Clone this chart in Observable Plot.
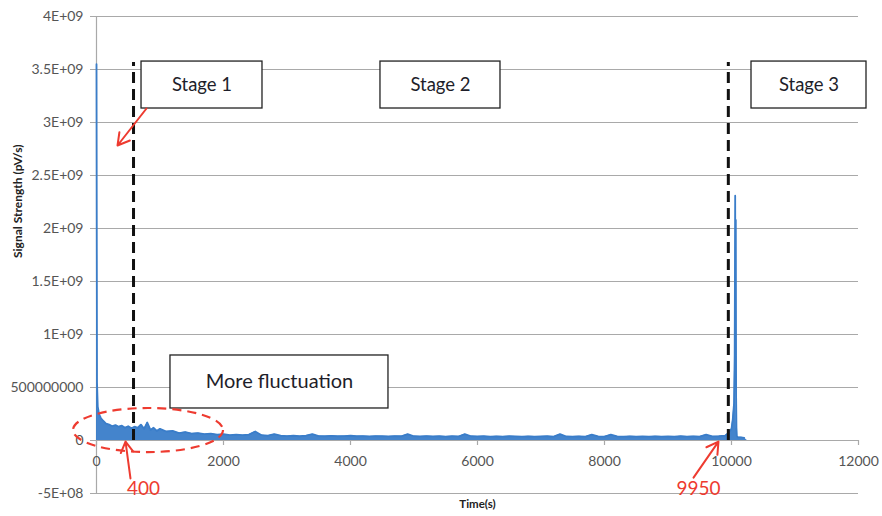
<!DOCTYPE html>
<html><head><meta charset="utf-8">
<script src="https://cdn.jsdelivr.net/npm/d3@7"></script>
<script src="https://cdn.jsdelivr.net/npm/@observablehq/plot@0.6"></script>
<style>
body{margin:0;background:#fff;}
#chart{width:882px;height:516px;}
</style>
</head><body><div id="chart"></div>
<script>
// ---- data ----
const time = [
  0, 8, 20, 40, 70, 100, 150, 200, 250, 300, 350, 400, 450, 500, 550, 600, 650, 700, 750, 800, 850, 900, 950, 1000,
  1100, 1200, 1300, 1400, 1500, 1600, 1700, 1800, 1900, 2000, 2100, 2200, 2300, 2400, 2500, 2600, 2700, 2800, 2900,
  3000, 3100, 3200, 3300, 3400, 3500, 3600, 3700, 3800, 3900, 4000, 4100, 4200, 4300, 4400, 4500, 4600, 4700, 4800,
  4900, 5000, 5100, 5200, 5300, 5400, 5500, 5600, 5700, 5800, 5900, 6000, 6100, 6200, 6300, 6400, 6500, 6600, 6700,
  6800, 6900, 7000, 7100, 7200, 7300, 7400, 7500, 7600, 7700, 7800, 7900, 8000, 8100, 8200, 8300, 8400, 8500, 8600,
  8700, 8800, 8900, 9000, 9100, 9200, 9300, 9400, 9500, 9600, 9700, 9800, 9900, 9950, 10000, 10020, 10040, 10050,
  10058, 10063, 10068, 10073, 10078, 10085, 10100, 10150, 10200, 10250
];
const signal = [
  3.55e9, 5.5e8, 3.2e8, 2.5e8, 2.1e8, 1.9e8, 1.6e8, 1.5e8, 1.35e8, 1.45e8, 1.3e8, 1.4e8, 1.2e8, 1.35e8, 1.15e8, 1.3e8, 1.2e8, 1.5e8, 1.1e8, 1.7e8, 1.0e8, 1.2e8, 9e7, 1.1e8,
  8.5e7, 9e7, 7e7, 8e7, 6.5e7, 7e7, 6e7, 6.5e7, 5.5e7, 6e7, 5e7, 5.5e7, 5e7, 5.5e7, 8.5e7, 5e7, 4.5e7, 6e7, 4.5e7,
  4.2e7, 4.5e7, 4e7, 4.5e7, 6e7, 4.2e7, 4e7, 4.4e7, 4e7, 4.2e7, 4.5e7, 4e7, 4.2e7, 3.8e7, 4.2e7, 4e7, 3.8e7, 4.2e7, 4e7,
  6e7, 4e7, 3.8e7, 4.2e7, 3.8e7, 4e7, 3.7e7, 4e7, 3.8e7, 6e7, 4e7, 3.8e7, 4e7, 3.6e7, 3.9e7, 3.7e7, 4e7, 3.8e7, 3.6e7,
  3.9e7, 3.7e7, 3.8e7, 4e7, 3.6e7, 6e7, 3.8e7, 3.7e7, 3.9e7, 3.6e7, 5.5e7, 3.8e7, 3.7e7, 5.5e7, 3.8e7, 3.6e7, 3.9e7, 3.7e7,
  3.8e7, 3.6e7, 3.9e7, 3.7e7, 3.8e7, 3.6e7, 4e7, 3.7e7, 3.9e7, 3.7e7, 5.5e7, 3.8e7, 4e7, 4.5e7, 7e7, 1.1e8, 2e8, 3.5e8,
  8e8, 2.31e9, 6e8, 2.08e9, 4e8, 1.2e8, 4e7, 3e7, 3e7, 2.5e7
];

const yTicks = [-5e8, 0, 5e8, 1e9, 1.5e9, 2e9, 2.5e9, 3e9, 3.5e9, 4e9];
const yTickLabels = ["-5E+08", "0", "500000000", "1E+09", "1.5E+09", "2E+09", "2.5E+09", "3E+09", "3.5E+09", "4E+09"];
const xTicks = [0, 2000, 4000, 6000, 8000, 10000, 12000];
const xTickLabels = ["0", "2000", "4000", "6000", "8000", "10000", "12000"];

const stageBounds = [583, 9950];
const stageBoundTop = 3.566e9;
const stageNames = ["Stage 1", "Stage 2", "Stage 3"];
const stageBoxX1 = [709, 4472, 10315];
const stageBoxX2 = [2614, 6362, 12126];
const stageBoxY1 = 3.132e9;
const stageBoxY2 = 3.575e9;

const noteText = "More fluctuation";
const noteBox = {x1: 1165, x2: 4598, y1: 3.02e8, y2: 8.02e8};

const ellipseCenter = {x: 819, y: 9.4e7};
const ellipseRadius = {x: 1181, y: 2.08e8};

const arrowX1 = [787, 535, 9402];
const arrowY1 = [3.132e9, -3.58e8, -3.5e8];
const arrowX2 = [331, 457, 9795];
const arrowY2 = [2.783e9, -1e7, -1e7];

const markerLabels = ["400", "9950"];
const markerLabelX = [740, 9480];
const markerLabelY = -4.6e8;

// ---- tables built from the arrays ----
const series = time.map((t, i) => ({t, v: signal[i]}));
const stages = stageNames.map((name, i) => ({name, x1: stageBoxX1[i], x2: stageBoxX2[i]}));
const arrows = arrowX1.map((x, i) => ({x1: x, y1: arrowY1[i], x2: arrowX2[i], y2: arrowY2[i]}));
const markers = markerLabels.map((s, i) => ({s, x: markerLabelX[i]}));

const blue = "#3a7dc9";
const red = "#ee3b30";
const grid = "#a9a9a9";
const font = "Lato, 'Open Sans', sans-serif";

const plot = Plot.plot({
  width: 882,
  height: 516,
  marginLeft: 96,
  marginRight: 24,
  marginTop: 16,
  marginBottom: 23,
  style: {fontFamily: font, background: "#fff", overflow: "visible"},
  x: {domain: [0, 12000], axis: null},
  y: {domain: [-5e8, 4e9], axis: null},
  marks: [
    // gridlines + left tick stubs
    Plot.ruleY(yTicks, {x1: -94.5, x2: 12000, stroke: grid, strokeWidth: 1.2}),
    Plot.ruleX([0], {y1: -5e8, y2: 4e9, stroke: grid, strokeWidth: 1.2}),
    Plot.ruleX(xTicks, {y1: 0, y2: -4.7e7, stroke: grid, strokeWidth: 1.2}),
    Plot.text(yTicks, {x: 0, y: d => d, text: (d, i) => yTickLabels[i], textAnchor: "end", dx: -13, fontSize: 14, fill: "#555"}),
    Plot.text(xTicks, {x: d => d, y: 0, text: (d, i) => xTickLabels[i], dy: 21, fontSize: 14, fill: "#555"}),
    Plot.text(["Signal Strength (pV/s)"], {frameAnchor: "left", dx: -78, dy: 3, rotate: -90, fontSize: 12, fontWeight: "bold", fill: "#222"}),
    Plot.text(["Time(s)"], {frameAnchor: "bottom", dy: 14, fontSize: 11.5, fontWeight: "bold", fill: "#222"}),
    // signal
    Plot.areaY(series, {x: "t", y: "v", fill: blue, fillOpacity: 0.95}),
    Plot.lineY(series, {x: "t", y: "v", stroke: blue, strokeWidth: 1.8}),
    // stage boundaries
    Plot.ruleX(stageBounds, {y1: 0, y2: stageBoundTop, stroke: "#111", strokeWidth: 3, strokeDasharray: "11,6"}),
    // boxes
    Plot.rect(stages, {x1: "x1", x2: "x2", y1: stageBoxY1, y2: stageBoxY2, fill: "#fff", stroke: "#222", strokeWidth: 1.3}),
    Plot.text(stages, {x: d => (d.x1 + d.x2) / 2, y: (stageBoxY1 + stageBoxY2) / 2, text: "name", fontSize: 18.5, fill: "#1e1e2a"}),
    Plot.rect([noteBox], {x1: "x1", x2: "x2", y1: "y1", y2: "y2", fill: "#fff", stroke: "#222", strokeWidth: 1.3}),
    Plot.text([noteBox], {x: d => (d.x1 + d.x2) / 2, y: d => (d.y1 + d.y2) / 2, text: () => noteText, fontSize: 20, fill: "#1e1e2a"}),
    // arrows and red labels
    Plot.arrow(arrows, {x1: "x1", y1: "y1", x2: "x2", y2: "y2", stroke: red, strokeWidth: 2, headLength: 10}),
    Plot.text(markers, {x: "x", y: markerLabelY, text: "s", fontSize: 19, fill: red})
  ]
});

document.getElementById("chart").appendChild(plot);

// dashed red ellipse drawn through the plot's own scales
const xs = plot.scale("x"), ys = plot.scale("y");
const cx = xs.apply(ellipseCenter.x), cy = ys.apply(ellipseCenter.y);
const rx = xs.apply(ellipseCenter.x + ellipseRadius.x) - cx;
const ry = cy - ys.apply(ellipseCenter.y + ellipseRadius.y);
d3.select(plot).append("ellipse")
  .attr("cx", cx).attr("cy", cy).attr("rx", rx).attr("ry", ry)
  .attr("fill", "none").attr("stroke", red).attr("stroke-width", 2.2)
  .attr("stroke-dasharray", "9,6");
</script>
</body></html>
